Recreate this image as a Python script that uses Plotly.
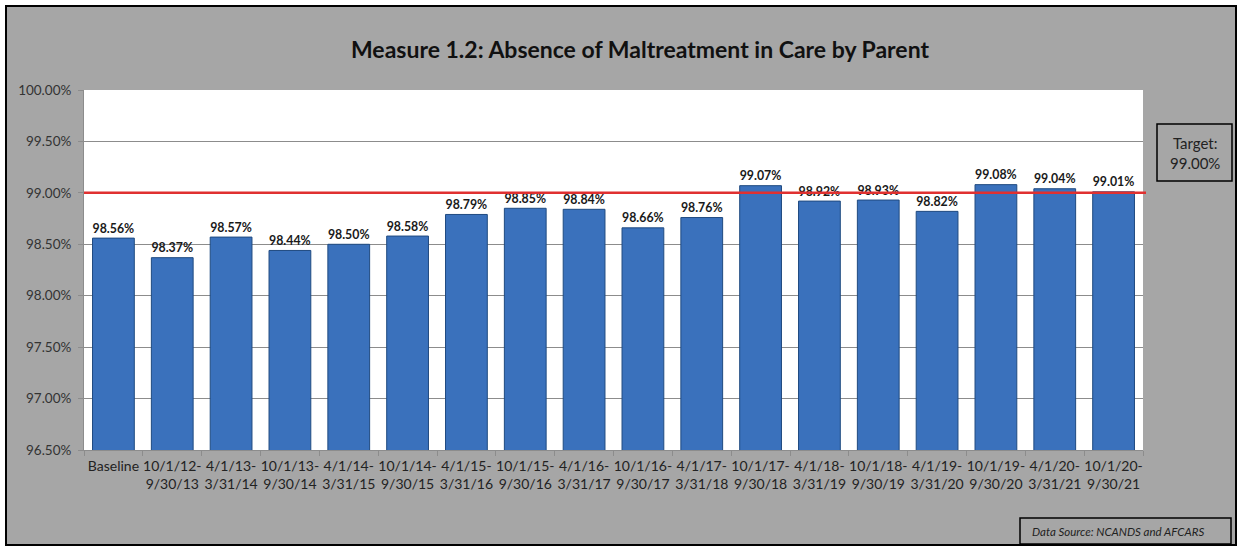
import plotly.graph_objects as go

categories = ["Baseline", "10/1/12-<br>9/30/13", "4/1/13-<br>3/31/14", "10/1/13-<br>9/30/14",
              "4/1/14-<br>3/31/15", "10/1/14-<br>9/30/15", "4/1/15-<br>3/31/16", "10/1/15-<br>9/30/16",
              "4/1/16-<br>3/31/17", "10/1/16-<br>9/30/17", "4/1/17-<br>3/31/18", "10/1/17-<br>9/30/18",
              "4/1/18-<br>3/31/19", "10/1/18-<br>9/30/19", "4/1/19-<br>3/31/20", "10/1/19-<br>9/30/20",
              "4/1/20-<br>3/31/21", "10/1/20-<br>9/30/21"]
values = [98.56, 98.37, 98.57, 98.44, 98.50, 98.58, 98.79, 98.85, 98.84, 98.66, 98.76,
          99.07, 98.92, 98.93, 98.82, 99.08, 99.04, 99.01]
target = 99.00
y_range = [96.5, 100.0]
title_text = "Measure 1.2: Absence of Maltreatment in Care by Parent"
target_text = "Target:<br>99.00%"
source_text = "Data Source: NCANDS and AFCARS"

W, H = 1238, 547
L, R, T, B = 84, 95, 90, 97
PW, PH = W - L - R, H - T - B

def px(x):
    return (x - L) / PW

def py(y):
    return (H - B - y) / PH

FONT = "Lato, 'Open Sans', sans-serif"

fig = go.Figure()
fig.add_trace(go.Bar(
    x=categories, y=values,
    marker=dict(color="#3a71bc", line=dict(color="#1f4a80", width=1)),
    text=[f"{v:.2f}%" for v in values],
    textposition="outside",
    textfont=dict(family=FONT, size=14.5, color="#1a1a1a", weight="bold"),
    cliponaxis=False,
    hoverinfo="skip",
))

shapes = [
    dict(type="rect", xref="paper", yref="paper", x0=px(6), x1=px(1236), y0=py(545), y1=py(6),
         fillcolor="#a6a6a6", line=dict(color="#000000", width=2), layer="below"),
    dict(type="rect", xref="paper", yref="paper", x0=0, x1=1, y0=0, y1=1,
         fillcolor="#ffffff", line=dict(width=0), layer="below"),
    dict(type="line", xref="paper", yref="y", x0=0, x1=px(1146), y0=target, y1=target,
         line=dict(color="#e03030", width=2.5), layer="above"),
    dict(type="rect", xref="paper", yref="paper", x0=px(1157), x1=px(1232), y0=py(181), y1=py(124),
         fillcolor="#a6a6a6", line=dict(color="#000000", width=1.5)),
    dict(type="rect", xref="paper", yref="paper", x0=px(1020), x1=px(1231), y0=py(544), y1=py(518),
         fillcolor="#a6a6a6", line=dict(color="#000000", width=1.5)),
]

annotations = [
    dict(text=target_text, xref="paper", yref="paper", x=px(1194.5), y=py(152.5),
         showarrow=False, font=dict(family=FONT, size=15, color="#222222"), align="center",
         xanchor="center", yanchor="middle"),
    dict(text="<i>" + source_text + "</i>", xref="paper", yref="paper", x=px(1030), y=py(531),
         showarrow=False, font=dict(family=FONT, size=11.5, color="#222222"),
         xanchor="left", yanchor="middle"),
]

fig.update_layout(
    width=W, height=H,
    margin=dict(l=L, r=R, t=T, b=B, autoexpand=False),
    paper_bgcolor="#ffffff",
    plot_bgcolor="rgba(0,0,0,0)",
    showlegend=False,
    bargap=0.29,
    title=dict(text="<b>" + title_text + "</b>", x=640 / W, xref="container", xanchor="center",
               y=1 - 50 / H, yref="container", yanchor="middle",
               font=dict(family=FONT, size=23, color="#111111")),
    font=dict(family=FONT, size=13, color="#333333"),
    xaxis=dict(showgrid=False, showline=True, linecolor="#8c8c8c", linewidth=1,
               ticks="outside", tickson="boundaries", ticklen=5, tickcolor="#8c8c8c",
               tickangle=0, ticklabelstandoff=3,
               tickfont=dict(family=FONT, size=14, color="#222222"), fixedrange=True),
    yaxis=dict(range=y_range, dtick=0.5, tick0=96.5, tickformat=".2f", ticksuffix="%",
               showgrid=True, gridcolor="#8c8c8c", gridwidth=1,
               showline=True, linecolor="#8c8c8c", linewidth=1,
               ticks="outside", ticklen=5, tickcolor="#8c8c8c", ticklabelstandoff=4,
               tickfont=dict(family=FONT, size=13.5, color="#333333"), zeroline=False, fixedrange=True),
    shapes=shapes,
    annotations=annotations,
)

fig.write_html("out.html", config={"displayModeBar": False},
               post_script="document.body.style.margin='0';document.body.style.overflow='hidden';")
